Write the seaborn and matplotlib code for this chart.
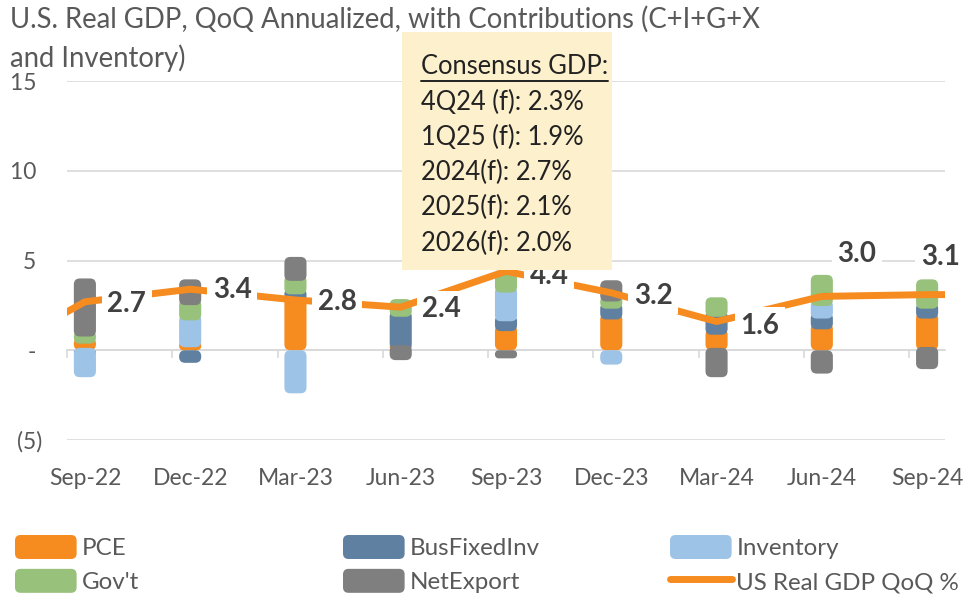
import numpy as np
import matplotlib
matplotlib.use("Agg")
import matplotlib.pyplot as plt
from matplotlib.patches import FancyBboxPatch, Rectangle, Patch
from matplotlib.lines import Line2D
from matplotlib.legend_handler import HandlerPatch
import seaborn as sns

# data
quarters = ["Sep-22", "Dec-22", "Mar-23", "Jun-23", "Sep-23",
            "Dec-23", "Mar-24", "Jun-24", "Sep-24"]
pce = [0.7, 0.5, 3.0, 0.4, 1.4, 2.05, 1.2, 1.5, 2.1]
bus_fixed_inv = [-0.2, -0.7, 0.45, 1.8, 0.55, 0.6, 1.0, 0.6, 0.55]
inventory = [-1.3, 1.5, -2.4, -0.05, 1.6, -0.8, -0.2, 0.7, -0.15]
govt = [0.4, 0.85, 0.75, 0.65, 0.75, 0.4, 0.75, 1.4, 1.3]
net_export = [2.9, 1.1, 1.0, -0.5, -0.45, 0.85, -1.3, -1.3, -0.9]

# GDP line runs one quarter past each edge of the plot (Jun-22 ... Dec-24)
gdp_pos = list(range(-1, 10))
gdp = [-0.6, 2.7, 3.4, 2.8, 2.4, 4.4, 3.2, 1.6, 3.0, 3.1, 3.1]
gdp_labels = ["2.7", "3.4", "2.8", "2.4", "4.4", "3.2", "1.6", "3.0", "3.1"]
label_offsets = [(42, -2), (42, -1), (42, -2), (41, -2), (43, -5),
                 (42, -3), (43, -4), (35, 42), (13, 38)]

consensus_title = "Consensus GDP:"
consensus_lines = ["4Q24 (f): 2.3%", "1Q25 (f): 1.9%", "2024(f): 2.7%",
                   "2025(f): 2.1%", "2026(f): 2.0%"]

series = [("PCE", pce, "#F68B1F"),
          ("BusFixedInv", bus_fixed_inv, "#5F80A0"),
          ("Inventory", inventory, "#9DC3E6"),
          ("Gov't", govt, "#98C17B"),
          ("NetExport", net_export, "#7F7F7F")]
line_color = "#F68B1F"
txt_gray = "#595959"

sns.set_style("white")
plt.rcParams["font.family"] = ["Lato", "DejaVu Sans"]

fig = plt.figure(figsize=(9.68, 6.02), dpi=100)
ax = fig.add_axes([67 / 968, 1 - 440 / 602, 878 / 968, 359 / 602])

pos_base = np.zeros(len(quarters))
neg_base = np.zeros(len(quarters))
for name, vals, color in series:
    v = np.array(vals, dtype=float)
    bottom = np.where(v >= 0, pos_base, neg_base)
    sns.barplot(x=quarters, y=v, order=quarters, bottom=bottom, color=color,
                width=0.21, errorbar=None, saturation=1, ax=ax, zorder=2)
    pos_base += np.where(v > 0, v, 0)
    neg_base += np.where(v < 0, v, 0)

xlim = (-0.17, 8.17)
ylim = (-5, 15)
ax.set_xlim(*xlim)
ax.set_ylim(*ylim)

# soft rounded corners on the bar segments; each stacked segment reaches a
# little into the one below it so the corners do not leave white notches
px_x = 878 / (xlim[1] - xlim[0])
px_y = 359 / (ylim[1] - ylim[0])
aspect = px_x / px_y
rad_px = 6
for p in list(ax.patches):
    x, base, w, h = p.get_x(), p.get_y(), p.get_width(), p.get_height()
    if h == 0:
        continue
    end = base + h
    if abs(base) > 1e-9:
        base = base - np.sign(h) * rad_px / px_y
    y0 = min(base, end)
    hh = abs(end - base)
    r = min(rad_px / px_x, w / 2, hh / aspect / 2)
    fb = FancyBboxPatch((x, y0), w, hh,
                        boxstyle=f"round,pad=0,rounding_size={r}",
                        mutation_aspect=aspect, fc=p.get_facecolor(),
                        ec="none", zorder=2)
    p.remove()
    ax.add_patch(fb)

sns.lineplot(x=gdp_pos, y=gdp, color=line_color, lw=5, ax=ax, zorder=3,
             solid_capstyle="butt")

for i, (lab, off) in enumerate(zip(gdp_labels, label_offsets)):
    ax.annotate(lab, (i, gdp[i + 1]), xytext=off, textcoords="offset pixels",
                ha="center", va="center", fontsize=20, fontweight="bold",
                color="#404040", zorder=4,
                bbox=dict(boxstyle="square,pad=0.2", fc="white", ec="none"))

# grid and axes
for s in ax.spines.values():
    s.set_visible(False)
ax.set_yticks([-5, 0, 5, 10, 15])
ax.set_yticklabels(["(5)", "- ", "5 ", "10 ", "15 "])
ax.yaxis.grid(True, color="#D9D9D9", lw=1.2, zorder=0)
ax.set_axisbelow(True)
ax.tick_params(axis="y", length=0, pad=18, labelsize=16.5, labelcolor=txt_gray)
ax.set_xticks(range(len(quarters)))
ax.set_xticklabels(quarters)
ax.tick_params(axis="x", length=0, pad=20, labelsize=16.5, labelcolor=txt_gray)
ax.set_xlabel("")
ax.set_ylabel("")

sec = ax.secondary_xaxis(0.25)
sec.set_xticks(np.arange(len(quarters)) - 0.17)
sec.set_xticklabels([])
sec.tick_params(axis="x", length=6, width=1.2, color="#D9D9D9", direction="out")
sec.spines["bottom"].set_color("#D9D9D9")
sec.spines["bottom"].set_linewidth(1.2)
for k in ["top", "left", "right"]:
    sec.spines[k].set_visible(False)

# title
fig.text(10 / 968, 1 - 19 / 602, "U.S. Real GDP, QoQ Annualized, with Contributions (C+I+G+X",
         fontsize=19.8, color=txt_gray, va="center", ha="left")
fig.text(10 / 968, 1 - 58 / 602, "and Inventory)", fontsize=19.8, color=txt_gray,
         va="center", ha="left")

# consensus box
fig.add_artist(Rectangle((402 / 968, 1 - 270 / 602), 210 / 968, 238 / 602,
                         transform=fig.transFigure, fc="#FDF0CC", ec="none", zorder=5))
t = fig.text(421 / 968, 1 - 66 / 602, consensus_title, fontsize=18.4, color="#222222",
             va="center", ha="left", zorder=6)
for j, line in enumerate(consensus_lines):
    fig.text(421 / 968, 1 - (102 + 35.3 * j) / 602, line, fontsize=18.4,
             color="#222222", va="center", ha="left", zorder=6)
fig.canvas.draw()
bb = t.get_window_extent().transformed(fig.transFigure.inverted())
fig.add_artist(Line2D([bb.x0, bb.x1], [1 - 81 / 602] * 2, transform=fig.transFigure,
                      color="#222222", lw=1.4, zorder=6))


def round_patch(legend, orig_handle, xdescent, ydescent, width, height, fontsize):
    return FancyBboxPatch((-xdescent, -ydescent), width, height,
                          boxstyle="round,pad=0,rounding_size=4")


# legend in three columns
cols = [[series[0], series[3]], [series[1], series[4]], [series[2], None]]
xs = [15, 343, 670]
for x0, col in zip(xs, cols):
    handles, labels = [], []
    for item in col:
        if item is None:
            handles.append(Line2D([], [], color=line_color, lw=5, solid_capstyle="round"))
            labels.append("US Real GDP QoQ %")
        else:
            handles.append(Patch(fc=item[2], ec="none"))
            labels.append(item[0])
    leg = fig.legend(handles, labels, loc="upper left",
                     bbox_to_anchor=(x0 / 968, 1 - 535 / 602), frameon=False,
                     fontsize=17.4, handlelength=2.55, handleheight=1.15,
                     handletextpad=0.2, labelspacing=0.4, borderpad=0,
                     borderaxespad=0,
                     handler_map={Patch: HandlerPatch(patch_func=round_patch)})
    for tx in leg.get_texts():
        tx.set_color(txt_gray)

fig.savefig("out.png", dpi=100)
